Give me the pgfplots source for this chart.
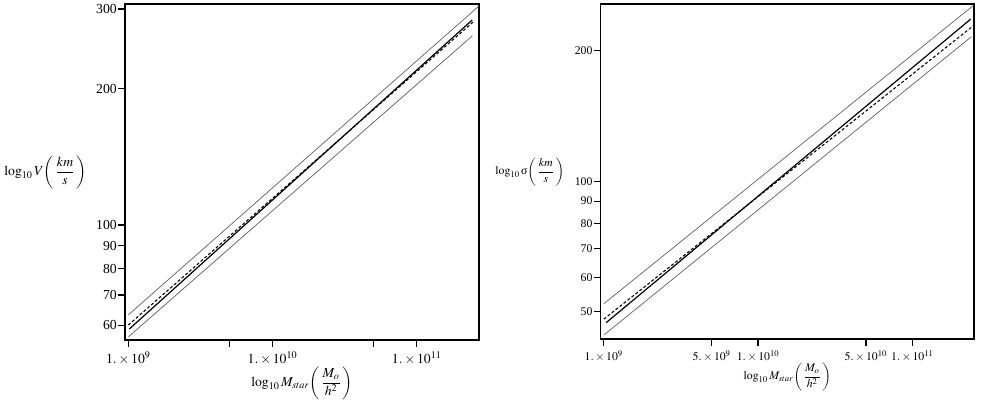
\documentclass[border=0pt]{standalone}
\usepackage{mathptmx}
\usepackage[no-math]{fontspec}
\setmainfont{Liberation Serif}
\usepackage{pgfplots}
\pgfplotsset{compat=1.18}

\tikzset{
  mplband/.style={black!65, line width=0.5pt},
  mplfit/.style={black, line width=0.9pt},
  mpldash/.style={black, line width=0.8pt, dash pattern=on 2.2pt off 1.6pt},
}

\begin{document}
\begin{tikzpicture}
\useasboundingbox (0pt,0pt) rectangle (735.75pt,-302.25pt);

% left panel: rotation velocity
\begin{axis}[
  scale only axis, xmode=log, ymode=log,
  axis line style={line width=0.9pt},
  tick align=outside, xtick pos=bottom, ytick pos=left,
  major tick length=5pt, minor tick length=0pt,
  tick style={line width=0.9pt, black},
  yticklabel style={inner sep=1pt},
  at={(93.75pt,-255pt)}, anchor=south west,
  width=265.5pt, height=252pt,
  xmin=9.48e8, xmax=2.7e11, ymin=55.7, ymax=307.7,
  xtick={1e9,5e9,1e10,5e10,1e11},
  xticklabels={$1.\times10^{9}$,,$1.\times10^{10}$,,$1.\times10^{11}$},
  ytick={60,70,80,90,100,200,300},
  yticklabels={60,70,80,90,100,200,300},
  ticklabel style={font=\fontsize{10.3}{12}\selectfont},
  label style={font=\fontsize{10.3}{12}\selectfont},
  xlabel={$\log_{10} M_{star}\!\left(\,\displaystyle\frac{M_o}{h^2}\,\right)$},
  x label style={at={(axis description cs:0.5,-0.128)}, anchor=center},
  ylabel={$\log_{10} V\!\left(\,\displaystyle\frac{km}{s}\,\right)$},
  y label style={at={(axis description cs:-0.1045,0.5)}, anchor=east, rotate=-90, inner sep=1pt},
]
\addplot[mplband] coordinates {(1e9,63.3) (2.69e11,304.3)};
\addplot[mplband] coordinates {(1.0e9,56.6) (2.43e11,261.8)};
\addplot[mpldash] coordinates {(1e9,60.1) (2.49e11,281.8)};
\addplot[mplfit] coordinates {(1.015e9,58.9) (2.42e11,283.5)};
\end{axis}

% right panel: velocity dispersion
\begin{axis}[
  scale only axis, xmode=log, ymode=log,
  axis line style={line width=0.9pt},
  tick align=outside, xtick pos=bottom, ytick pos=left,
  major tick length=5pt, minor tick length=0pt,
  tick style={line width=0.9pt, black},
  yticklabel style={inner sep=1pt},
  at={(450.5pt,-254.25pt)}, anchor=south west,
  width=280pt, height=251.25pt,
  xmin=9.55e8, xmax=2.51e11, ymin=43.3, ymax=256.3,
  xtick={1e9,5e9,1e10,5e10,1e11},
  xticklabels={$1.\times10^{9}$,$5.\times10^{9}$,$1.\times10^{10}$,$5.\times10^{10}$,$1.\times10^{11}$},
  ytick={50,60,70,80,90,100,200},
  yticklabels={50,60,70,80,90,100,200},
  ticklabel style={font=\fontsize{8.8}{10.5}\selectfont},
  label style={font=\fontsize{8.8}{10.5}\selectfont},
  xlabel={$\log_{10} M_{star}\!\left(\,\displaystyle\frac{M_o}{h^2}\,\right)$},
  x label style={at={(axis description cs:0.5,-0.113)}, anchor=center},
  ylabel={$\log_{10} \mbox{σ}\!\left(\,\displaystyle\frac{km}{s}\,\right)$},
  y label style={at={(axis description cs:-0.093,0.4985)}, anchor=east, rotate=-90, inner sep=1pt},
]
\addplot[mplband] coordinates {(1e9,52.2) (2.46e11,253.5)};
\addplot[mplband] coordinates {(1e9,44.2) (2.41e11,215.4)};
\addplot[mpldash] coordinates {(1e9,48.1) (2.51e11,229)};
\addplot[mplfit] coordinates {(1.035e9,47.2) (2.39e11,236.6)};
\end{axis}
\end{tikzpicture}
\end{document}
